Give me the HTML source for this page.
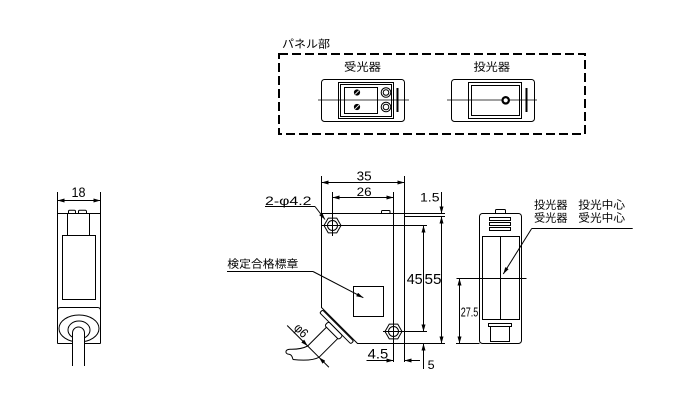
<!DOCTYPE html>
<html><head><meta charset="utf-8"><style>
html,body{margin:0;padding:0;background:#fff;}
svg{display:block;}
text{font-family:"Liberation Sans","Noto Sans CJK JP",sans-serif;fill:#000;stroke:none;}
.j{font-family:"Liberation Sans","Noto Sans CJK JP",sans-serif;font-size:11px;}
</style></head><body>
<svg width="680" height="400" viewBox="0 0 680 400" xmlns="http://www.w3.org/2000/svg">
<defs>
<marker id="a" viewBox="0 0 7 4" refX="7" refY="2" markerWidth="7" markerHeight="4" markerUnits="userSpaceOnUse" orient="auto-start-reverse"><path d="M0,0L7,2L0,4z" fill="#000"/></marker>
</defs>
<rect width="680" height="400" fill="#fff"/>

<!-- ===== Panel ===== -->
<g fill="none" stroke="#000" stroke-width="1">
<rect x="279" y="54" width="306" height="80" stroke-width="2" stroke-dasharray="9 4"/>
<!-- receiver -->
<rect x="321.5" y="79.5" width="83" height="42" rx="3"/>
<rect x="338.5" y="82.5" width="55" height="36"/>
<rect x="340.5" y="84.5" width="51" height="32"/>
<rect x="344.5" y="87.5" width="33" height="26"/>
<circle cx="386" cy="92.5" r="4.8"/><circle cx="386" cy="92.5" r="2.8"/>
<circle cx="386" cy="107" r="4.8"/><circle cx="386" cy="107" r="2.8"/>
<line x1="318" y1="100" x2="409" y2="100" stroke-width="0.8"/>
<!-- emitter -->
<rect x="451.5" y="79.5" width="83" height="42" rx="3"/>
<rect x="468.5" y="82.5" width="53" height="36"/>
<rect x="471.5" y="85.5" width="48" height="30"/>
<line x1="447" y1="100" x2="537" y2="100" stroke-width="0.8"/>
<circle cx="505.7" cy="100.3" r="3.2" stroke-width="2.2" fill="#fff"/>
</g>
<circle cx="357" cy="92.5" r="3.1" fill="#000"/>
<circle cx="357" cy="107" r="3.1" fill="#000"/>
<line x1="355.2" y1="94.3" x2="358.8" y2="90.7" stroke="#fff" stroke-width="0.9"/>
<line x1="355.2" y1="108.8" x2="358.8" y2="105.2" stroke="#fff" stroke-width="0.9"/>
<rect x="396.5" y="88" width="2" height="24" fill="#000"/>
<rect x="525.5" y="88" width="2" height="24" fill="#000"/>
<text class="j" x="282" y="47.5" textLength="48" lengthAdjust="spacingAndGlyphs">パネル部</text>
<text class="j" x="344" y="70.7" textLength="37" lengthAdjust="spacingAndGlyphs">受光器</text>
<text class="j" x="473.5" y="70.7" textLength="36.5" lengthAdjust="spacingAndGlyphs">投光器</text>

<!-- ===== Left side view ===== -->
<g fill="none" stroke="#000" stroke-width="1">
<line x1="57.5" y1="192" x2="57.5" y2="343.5"/>
<line x1="100.5" y1="192" x2="100.5" y2="343.5"/>
<line x1="57.5" y1="213.5" x2="100.5" y2="213.5"/>
<line x1="57.5" y1="343.5" x2="100.5" y2="343.5"/>
<path d="M68.5,213.5V211.5a1.2,1.2 0 0 1 1.2-1.2h4.6a1.2,1.2 0 0 1 1.2,1.2v2M78.5,213.5V211.5a1.2,1.2 0 0 1 1.2-1.2h5.6a1.2,1.2 0 0 1 1.2,1.2v2"/>
<rect x="67.5" y="213.5" width="22" height="22"/>
<rect x="62.5" y="235.5" width="33" height="64"/>
<path d="M57.5,310.5q0-3 3-3h37q3,0 3,3"/>
<ellipse cx="79" cy="328.5" rx="20" ry="13.5"/>
<ellipse cx="79" cy="330" rx="11" ry="9"/>
<path d="M72.5,366V333a6,6 0 0 1 12,0V366" fill="#fff"/>
<line x1="57.5" y1="200.5" x2="100.5" y2="200.5" marker-start="url(#a)" marker-end="url(#a)"/>
</g>
<text x="71.5" y="197" font-size="14" textLength="14" lengthAdjust="spacingAndGlyphs">18</text>

<!-- ===== Front view ===== -->
<g fill="none" stroke="#000" stroke-width="1">
<path d="M321.5,176V307.5L357.5,343.5H445"/>
<line x1="404.5" y1="176" x2="404.5" y2="362"/>
<line x1="321.5" y1="213.5" x2="445" y2="213.5"/>
<line x1="404.5" y1="216.5" x2="445" y2="216.5"/>
<path d="M381.5,213.5V211.5q0-1 1-1h6.5q1,0 1,1v2"/>
<!-- extension / center lines -->
<line x1="332.5" y1="192" x2="332.5" y2="236"/>
<line x1="393.5" y1="192" x2="393.5" y2="362"/>
<line x1="322" y1="225.5" x2="427" y2="225.5"/>
<line x1="383" y1="331.5" x2="427" y2="331.5"/>
<!-- holes -->
<path d="M324,225.5L328.25,218.14H336.75L341,225.5L336.75,232.86H328.25Z" fill="none"/>
<circle cx="332.5" cy="225.5" r="5"/>
<path d="M385,331.5L389.25,324.14H397.75L402,331.5L397.75,338.86H389.25Z"/>
<circle cx="393.5" cy="331.5" r="5"/>
<!-- label square -->
<rect x="353.5" y="286.5" width="30" height="30"/>
<!-- dims -->
<line x1="321.5" y1="182.5" x2="404.5" y2="182.5" marker-start="url(#a)" marker-end="url(#a)"/>
<line x1="332.5" y1="197.5" x2="393.5" y2="197.5" marker-start="url(#a)" marker-end="url(#a)"/>
<line x1="423.5" y1="225.5" x2="423.5" y2="331.5" marker-start="url(#a)" marker-end="url(#a)"/>
<line x1="423.5" y1="369" x2="423.5" y2="343.5" marker-end="url(#a)"/>
<line x1="441.5" y1="216.5" x2="441.5" y2="343.5" marker-start="url(#a)" marker-end="url(#a)"/>
<line x1="441.5" y1="192" x2="441.5" y2="213.5" marker-end="url(#a)"/>
<line x1="366.5" y1="360.5" x2="393.5" y2="360.5" marker-end="url(#a)"/>
<line x1="420" y1="360.5" x2="404.5" y2="360.5" marker-end="url(#a)"/>
<!-- leaders -->
<polyline points="265,206.5 315,206.5"/>
<line x1="315" y1="206.5" x2="325" y2="219.5" marker-end="url(#a)"/>
<polyline points="227,271.5 313,271.5"/>
<line x1="313" y1="271.5" x2="363.3" y2="297.7" marker-end="url(#a)"/>
<!-- gland -->
<g transform="translate(339.5,325.5) rotate(45)">
<rect x="-23" y="1" width="44" height="4" rx="1.5" fill="#fff"/>
<rect x="-10.5" y="5" width="20" height="5.5" rx="2" fill="#fff"/>
<line x1="-8" y1="10.5" x2="-8" y2="37"/>
<line x1="8" y1="10.5" x2="8" y2="37"/>
<line x1="-37" y1="37" x2="-8" y2="37" marker-end="url(#a)"/>
<line x1="-8" y1="37" x2="8" y2="37"/>
<line x1="22" y1="37" x2="8" y2="37" marker-end="url(#a)"/>
<text x="-30.5" y="35" font-size="13" textLength="14" lengthAdjust="spacingAndGlyphs">φ6</text>
</g>
<path d="M307.7,346Q301,349.5 290,349.2"/>
<path d="M319,357.3Q311,361.5 293,359.5"/>
<path d="M290,349.2C284.5,349.5 285,354 289,354.3C292.5,354.6 292.5,358.7 293,359.5"/>
</g>
<text x="356.7" y="180.5" font-size="13" textLength="15" lengthAdjust="spacingAndGlyphs">35</text>
<text x="356.7" y="196" font-size="12" textLength="15" lengthAdjust="spacingAndGlyphs">26</text>
<text x="420" y="201.5" font-size="12" textLength="19.5" lengthAdjust="spacingAndGlyphs">1.5</text>
<text x="406.7" y="284" font-size="15" textLength="16" lengthAdjust="spacingAndGlyphs">45</text>
<text x="424.5" y="284" font-size="15" textLength="17" lengthAdjust="spacingAndGlyphs">55</text>
<text x="367.7" y="358.3" font-size="14" textLength="20.6" lengthAdjust="spacingAndGlyphs">4.5</text>
<text x="427.7" y="369" font-size="12" textLength="7" lengthAdjust="spacingAndGlyphs">5</text>
<text x="265" y="205" font-size="12" textLength="46.5" lengthAdjust="spacingAndGlyphs">2-φ4.2</text>
<text class="j" x="227.3" y="267.5" textLength="71" lengthAdjust="spacingAndGlyphs">検定合格標章</text>

<!-- ===== Right view ===== -->
<g fill="none" stroke="#000" stroke-width="1">
<rect x="479.5" y="213.5" width="42" height="130" rx="3"/>
<path d="M495.5,213.5V210.5q0-1 1-1h8q1,0 1,1v3"/>
<rect x="489.5" y="217.5" width="21" height="3"/>
<rect x="489.5" y="222.5" width="21" height="3"/>
<rect x="489.5" y="227.5" width="21" height="3"/>
<rect x="482.5" y="236.5" width="37" height="83"/>
<line x1="500.5" y1="236.5" x2="500.5" y2="319.5"/>
<rect x="488.5" y="323.5" width="23" height="3"/>
<rect x="490.5" y="326.5" width="19" height="15"/>
<line x1="456.5" y1="278.5" x2="526.5" y2="278.5"/>
<line x1="456" y1="343.5" x2="479.5" y2="343.5"/>
<line x1="459.5" y1="278.5" x2="459.5" y2="343.5" marker-start="url(#a)" marker-end="url(#a)"/>
<line x1="531.7" y1="228.5" x2="632.7" y2="228.5"/>
<line x1="531.7" y1="228.5" x2="503.3" y2="274" marker-end="url(#a)"/>
</g>
<text x="460.7" y="316.5" font-size="13" textLength="17.6" lengthAdjust="spacingAndGlyphs">27.5</text>
<text class="j" x="534" y="208.5" textLength="33.5" lengthAdjust="spacingAndGlyphs">投光器</text>
<text class="j" x="578.3" y="208.5" textLength="46.7" lengthAdjust="spacingAndGlyphs">投光中心</text>
<text class="j" x="534" y="221.5" textLength="33.5" lengthAdjust="spacingAndGlyphs">受光器</text>
<text class="j" x="578.3" y="221.5" textLength="46.7" lengthAdjust="spacingAndGlyphs">受光中心</text>
</svg>
</body></html>
